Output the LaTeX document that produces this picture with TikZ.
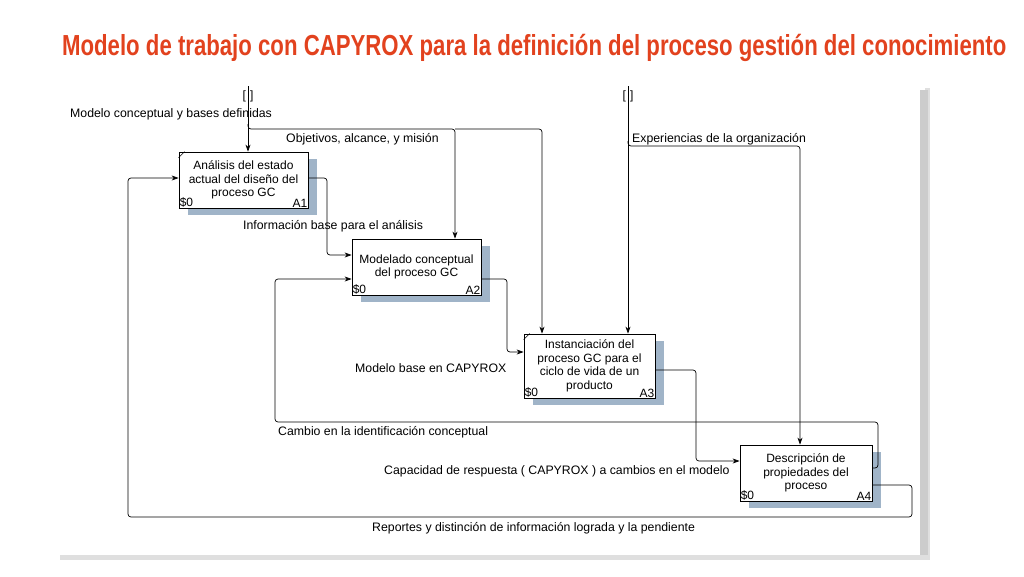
\documentclass[tikz,border=0pt]{standalone}
\usepackage{fontspec}
\setmainfont{Liberation Sans}
\usetikzlibrary{arrows.meta,backgrounds}
\definecolor{titlered}{RGB}{226,66,30}
\definecolor{shad}{RGB}{160,180,200}
\begin{document}
\begin{tikzpicture}[x=1pt,y=-1pt,
  proc/.style={draw,fill=white,line width=0.8pt,align=center,inner sep=0pt,font=\fontsize{12}{13.5}\selectfont},
  flow/.style={draw,line width=0.7pt,rounded corners=3pt,-{Stealth[length=7pt,width=5pt]}},
  lbl/.style={font=\fontsize{12.3}{14}\selectfont,inner sep=0pt},
  tag/.style={font=\fontsize{12}{13}\selectfont,inner sep=1pt}]
\useasboundingbox (0,0) rectangle (1024,576);
% title
\node[anchor=west,text=titlered,font=\bfseries\fontsize{29}{32}\selectfont,xscale=0.765,inner sep=0pt] (title) at (62,48) {Modelo de trabajo con CAPYROX para la definición del proceso gestión del conocimiento};
% boxes
\node[proc,minimum width=129pt,minimum height=56pt] (A1) at (243.5,180) {Análisis del estado\\actual del diseño del\\proceso GC};
\node[proc,minimum width=129pt,minimum height=56pt] (A2) at (416.5,267) {Modelado conceptual\\del proceso GC};
\node[proc,minimum width=131pt,minimum height=64pt] (A3) at (589.5,366) {Instanciación del\\proceso GC para el\\ciclo de vida de un\\producto};
\node[proc,minimum width=132pt,minimum height=56pt] (A4) at (806,473) {Descripción de\\propiedades del\\proceso};
\begin{scope}[on background layer]
\fill[gray!25] (60,88) rectangle (930,560);
\fill[white] (55,83) rectangle (925,555);
\fill[gray!40] (920,90) rectangle (928,555);
\foreach \n in {A1,A2,A3,A4}
  \fill[shad] ([shift={(9,7)}]\n.south west) rectangle ([shift={(9,7)}]\n.north east);
\end{scope}
\foreach \n/\t in {A1/A1,A2/A2,A3/A3,A4/A4}{
  \node[tag,anchor=south west] (s\n) at (\n.south west) {\$0};
  \node[tag,anchor=south east] (t\n) at (\n.south east) {\t};
}
\draw[line width=0.5pt] ([xshift=6pt]A1.north west) -- ([yshift=-6pt]A1.north west);
\draw[line width=0.5pt] ([xshift=6pt]A3.north west) -- ([yshift=-6pt]A3.north west);
% tunnels
\coordinate (t1) at (248,86);
\coordinate (t2) at (628,86);
\node[lbl,font=\fontsize{12}{12}\selectfont] (b1) at (248,96) {[\hspace{4pt}]};
\node[lbl,font=\fontsize{12}{12}\selectfont] (b2) at (628,96) {[\hspace{4pt}]};
% controls
\draw[flow] (t1) -- (A1.north -| 248,0);
\draw[flow] (248,124) |- (455,129) -- (A2.north -| 455,0);
\draw[flow] (455,129) -- (542,129) -- (A3.north -| 542,0);
\draw[flow] (t2) -- (A3.north -| 628,0);
\draw[flow] (628,141) |- (800,146) -- (A4.north -| 800,0);
% flows
\draw[flow] (A1.east |- 0,178) -- (327,178) |- (A2.west |- 0,255);
\draw[flow] (A2.east |- 0,279) -- (507,279) |- (A3.west |- 0,352);
\draw[flow] (A3.east |- 0,370) -- (696,370) |- (A4.west |- 0,461);
\draw[flow] (A4.east |- 0,468) -- (878,468) -- (878,422) -- (275,422) |- (A2.west |- 0,279);
\draw[flow] (A4.east |- 0,485) -- (912,485) -- (912,517) -- (128,517) |- (A1.west |- 0,178);
% labels
\node[lbl,anchor=west] (l1) at (70,114) {Modelo conceptual y bases definidas};
\node[lbl,anchor=west] (l2) at (286,139) {Objetivos, alcance, y misión};
\node[lbl,anchor=west] (l3) at (632,139) {Experiencias de la organización};
\node[lbl,anchor=west] (l4) at (243,226) {Información base para el análisis};
\node[lbl,anchor=west] (l5) at (355,368) {Modelo base en CAPYROX};
\node[lbl,anchor=west] (l6) at (278,432) {Cambio en la identificación conceptual};
\node[lbl,anchor=west] (l7) at (384,471) {Capacidad de respuesta ( CAPYROX ) a cambios en el modelo};
\node[lbl,anchor=west] (l8) at (372,528) {Reportes y distinción de información lograda y la pendiente};
\end{tikzpicture}
\end{document}
